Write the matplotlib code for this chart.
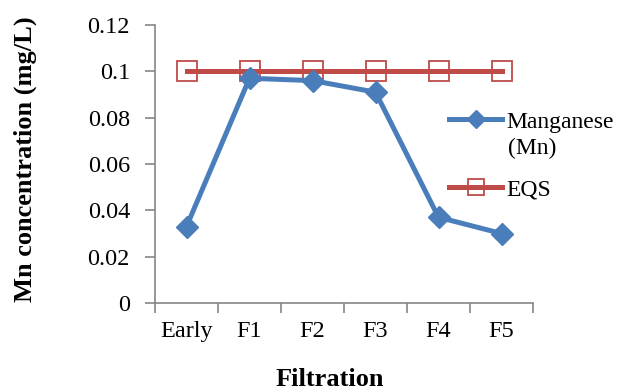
import matplotlib
matplotlib.use("Agg")
import matplotlib.pyplot as plt
import numpy as np

categories = ["Early", "F1", "F2", "F3", "F4", "F5"]
manganese = [0.033, 0.097, 0.096, 0.091, 0.037, 0.030]
eqs = [0.1, 0.1, 0.1, 0.1, 0.1, 0.1]
ytick_labels = ["0", "0.02", "0.04", "0.06", "0.08", "0.1", "0.12"]

plt.rcParams["font.family"] = ["Liberation Serif", "DejaVu Serif"]

BLUE = "#4A7EBB"
RED = "#BE4B48"
GRAY = "#868686"
W, H = 620, 392


def main():
    fig = plt.figure(figsize=(W / 100, H / 100), dpi=100)
    ax = fig.add_axes([155 / W, 1 - 303 / H, 378 / W, 278 / H])

    x = np.arange(len(categories))
    ax.plot(x, manganese, color=BLUE, lw=3.6, marker="D", ms=11,
            markerfacecolor=BLUE, markeredgecolor=BLUE,
            label="Manganese", zorder=3, clip_on=False)
    ax.plot(x, eqs, color=RED, lw=3.6, marker="s", ms=14,
            markerfacecolor="none", markeredgecolor=RED, markeredgewidth=1.3,
            label="EQS", zorder=2, clip_on=False)

    ax.set_xlim(-0.5, len(categories) - 0.5)
    ax.set_ylim(0, 0.12)
    ax.set_yticks(np.arange(0, 0.121, 0.02))
    ax.set_yticklabels(ytick_labels)

    # category labels at centres, tick marks at boundaries
    ax.set_xticks(x)
    ax.set_xticklabels(categories)
    ax.tick_params(axis="x", length=0, pad=13)
    ax.set_xticks(np.arange(-0.5, len(categories)), minor=True)
    ax.tick_params(axis="x", which="minor", length=7, color=GRAY, width=1.2)
    ax.tick_params(axis="y", length=7, color=GRAY, width=1.2, pad=11)
    ax.tick_params(labelsize=17.5)

    for s in ["top", "right"]:
        ax.spines[s].set_visible(False)
    for s in ["left", "bottom"]:
        ax.spines[s].set_color(GRAY)
        ax.spines[s].set_linewidth(1.2)

    ax.set_xlabel("Filtration", fontsize=19, fontweight="bold")
    ax.xaxis.set_label_coords((330 - 155) / 378, (303 - 380) / 278)
    ax.xaxis.label.set_va("center")
    ax.set_ylabel("Mn concentration (mg/L)", fontsize=19, fontweight="bold")
    ax.yaxis.set_label_coords((25 - 155) / 378, (303 - 159) / 278)
    ax.yaxis.label.set_va("center")

    ax.legend(loc="upper left", bbox_to_anchor=(449 / W, 1 - 111 / H),
              bbox_transform=fig.transFigure, frameon=False, fontsize=17,
              handlelength=2.25, handletextpad=0.2, labelspacing=1.95,
              borderpad=0, borderaxespad=0, markerscale=0.8)
    fig.text(508 / W, 1 - 148 / H, "(Mn)", fontsize=17, va="center", ha="left")

    fig.savefig("out.png", dpi=100)
    plt.close(fig)


if __name__ == "__main__":
    main()
